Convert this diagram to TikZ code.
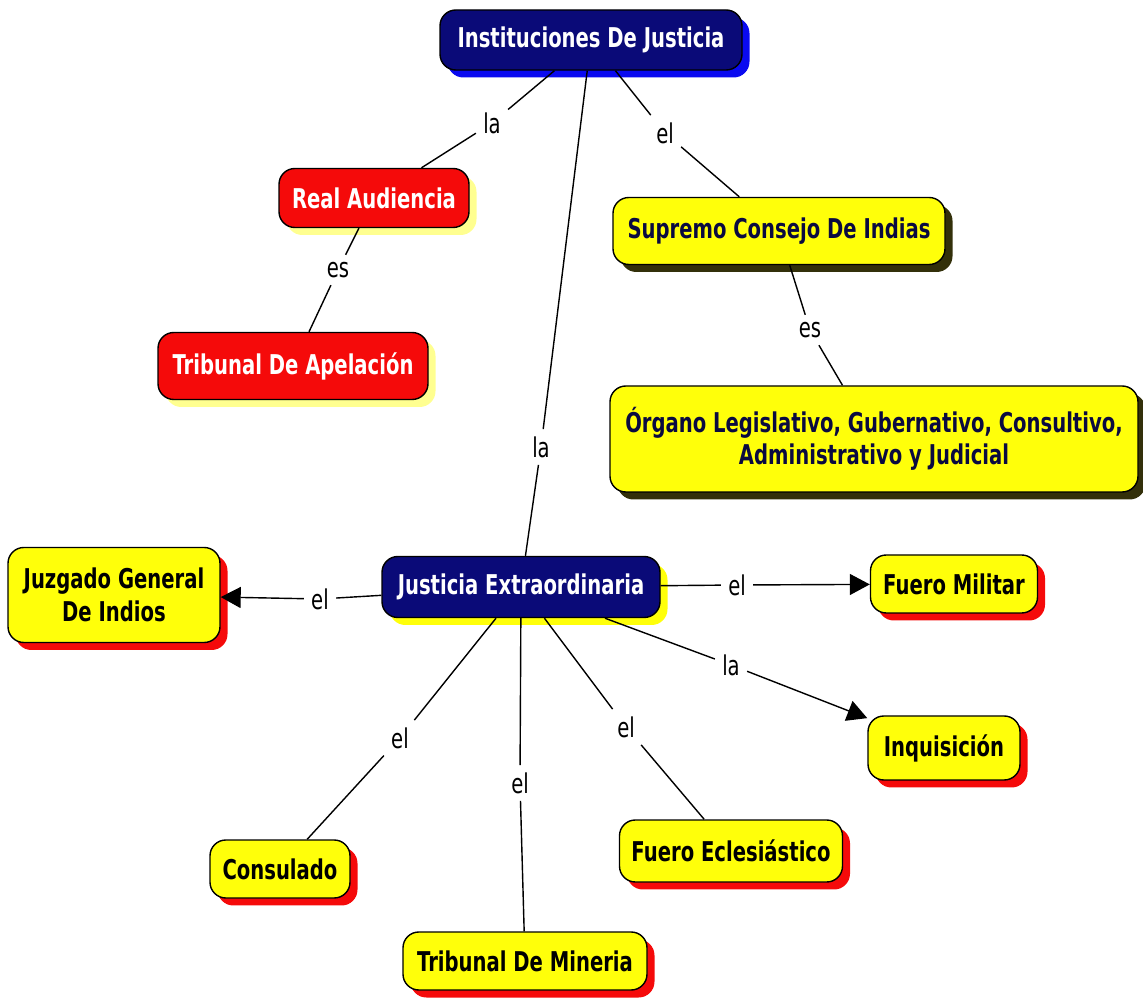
\documentclass[tikz,border=0pt]{standalone}
\usepackage{fontspec}
\usetikzlibrary{shadows,arrows.meta}
\newfontfamily\nodefont{DejaVu Sans}[FakeStretch=0.72]
\definecolor{navyc}{HTML}{0A0A78}
\definecolor{blueshad}{HTML}{0A0AF0}
\definecolor{redc}{HTML}{F50A0A}
\definecolor{yelc}{HTML}{FFFF0A}
\definecolor{paleyel}{HTML}{FFFF90}
\definecolor{darkshad}{HTML}{33300A}
\definecolor{dnavytext}{HTML}{0A0A40}
\tikzset{
  cbox/.style={draw=black, line width=0.8pt, rounded corners=9pt, font=\nodefont\fontsize{15.5}{18.5}\selectfont\bfseries, align=center, inner sep=2pt},
  sz/.style 2 args={minimum width=#1*0.02cm, minimum height=#2*0.02cm},
  shad/.style={drop shadow={fill=#1, opacity=1, shadow xshift=0.15cm, shadow yshift=-0.15cm}},
  navybox/.style={cbox, fill=navyc, text=white, shad=#1},
  redbox/.style={cbox, fill=redc, text=white, shad=#1},
  yelbox/.style={cbox, fill=yelc, text=#1},
  lbl/.style={font=\nodefont\fontsize{15.5}{18.5}\selectfont, fill=white, inner sep=4pt},
  conn/.style={draw=black, line width=0.8pt},
  arr/.style={conn, -{Triangle[length=0.4cm, width=0.42cm]}}
}
\begin{document}
\begin{tikzpicture}[x=0.02cm, y=-0.02cm]
\useasboundingbox (0,0) rectangle (1143,999);
% nodes
\node[navybox=blueshad, sz={302}{60}] (inst) at (591,40) {Instituciones De Justicia};
\node[redbox=paleyel, sz={190}{59}] (ra) at (374,198) {Real Audiencia};
\node[redbox=paleyel, sz={270}{67}] (ta) at (293,366) {Tribunal De Apelación};
\node[yelbox=dnavytext, shad=darkshad, sz={332}{67}] (sup) at (779,231) {Supremo Consejo De Indias};
\node[yelbox=dnavytext, shad=darkshad, sz={528}{106}] (org) at (874,439) {Órgano Legislativo, Gubernativo, Consultivo,\\Administrativo y Judicial};
\node[navybox=yelc, sz={278}{61}] (je) at (521,587) {Justicia Extraordinaria};
\node[yelbox=black, shad=redc, sz={212}{95}] (juz) at (114,595) {Juzgado General\\De Indios};
\node[yelbox=black, shad=redc, sz={167}{58}] (fm) at (954,584) {Fuero Militar};
\node[yelbox=black, shad=redc, sz={152}{64}] (inq) at (944,748) {Inquisición};
\node[yelbox=black, shad=redc, sz={140}{58}] (con) at (280,869) {Consulado};
\node[yelbox=black, shad=redc, sz={244}{58}] (tm) at (525,961) {Tribunal De Mineria};
\node[yelbox=black, shad=redc, sz={223}{62}] (fe) at (731,851) {Fuero Eclesiástico};
% labels
\node[lbl] (l1) at (492,123) {la};
\node[lbl] (l2) at (665,133) {el};
\node[lbl] (l3) at (541,447) {la};
\node[lbl] (l4) at (338,270) {es};
\node[lbl] (l5) at (810,330) {es};
\node[lbl] (l6) at (320,599) {el};
\node[lbl] (l7) at (737,585) {el};
\node[lbl] (l8) at (731,665) {la};
\node[lbl] (l9) at (400,738) {el};
\node[lbl] (l10) at (520,783) {el};
\node[lbl] (l11) at (626,727) {el};
% connectors
\draw[conn] (inst) -- (l1); \draw[conn] (l1) -- (ra);
\draw[conn] (inst) -- (l2); \draw[conn] (l2) -- (sup);
\draw[conn] (inst) -- (l3); \draw[conn] (l3) -- (je);
\draw[conn] (ra) -- (l4); \draw[conn] (l4) -- (ta);
\draw[conn] (sup) -- (l5); \draw[conn] (l5) -- (org);
\draw[conn] (je) -- (l6); \draw[arr] (l6) -- (juz);
\draw[conn] (je) -- (l7); \draw[arr] (l7) -- (fm);
\draw[conn] (je) -- (l8); \draw[arr] (l8) -- (inq);
\draw[conn] (je) -- (l9); \draw[conn] (l9) -- (con);
\draw[conn] (je) -- (l10); \draw[conn] (l10) -- (tm);
\draw[conn] (je) -- (l11); \draw[conn] (l11) -- (fe);
\end{tikzpicture}
\end{document}
